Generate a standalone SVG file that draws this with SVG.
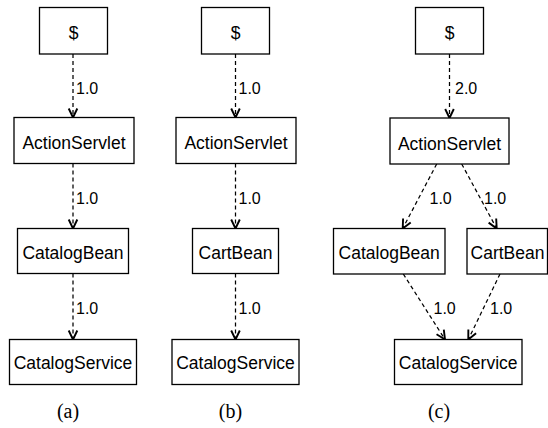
<svg xmlns="http://www.w3.org/2000/svg" width="548" height="428" viewBox="0 0 548 428">
<defs>
<marker id="arr" markerUnits="userSpaceOnUse" viewBox="-11 -6 13 12" refX="0" refY="0" markerWidth="13" markerHeight="12" orient="auto" overflow="visible">
<path d="M-9,-4.3 L0,0 L-9,4.3" fill="none" stroke="#000" stroke-width="1.9" stroke-dasharray="none"/>
</marker>
</defs>
<style>
.box{fill:#fff;stroke:#000;stroke-width:1.3}
.t{font-family:"Liberation Sans",Arial,sans-serif;font-size:17.5px;text-anchor:middle;fill:#000}
.lbl{font-family:"Liberation Sans",Arial,sans-serif;font-size:16px;fill:#000}
.cap{font-family:"Liberation Serif","Times New Roman",serif;font-size:20px;text-anchor:middle;fill:#000}
.e{fill:none;stroke:#000;stroke-width:1.25;stroke-dasharray:4 3;marker-end:url(#arr)}
</style>
<rect width="548" height="428" fill="#fff"/>
<g id="connectors">
<line class="e" x1="73" y1="54" x2="73" y2="117.5"/>
<line class="e" x1="73" y1="163.5" x2="73" y2="228.5"/>
<line class="e" x1="73" y1="273.5" x2="73" y2="339.5"/>
<line class="e" x1="235.5" y1="54" x2="235.5" y2="117.5"/>
<line class="e" x1="235.5" y1="163.5" x2="235.5" y2="228.5"/>
<line class="e" x1="235.5" y1="273.5" x2="235.5" y2="339.5"/>
<line class="e" x1="449.5" y1="54" x2="449.5" y2="118"/>
<line class="e" x1="436.7" y1="164" x2="402.7" y2="228.5"/>
<line class="e" x1="461.7" y1="164" x2="496.7" y2="228.5"/>
<line class="e" x1="403.3" y1="274" x2="445" y2="339.5"/>
<line class="e" x1="500" y1="274" x2="468.3" y2="339.5"/>
<text class="lbl" x="76" y="94">1.0</text>
<text class="lbl" x="76" y="203.5">1.0</text>
<text class="lbl" x="76" y="313.5">1.0</text>
<text class="lbl" x="238.5" y="94">1.0</text>
<text class="lbl" x="238.5" y="203.5">1.0</text>
<text class="lbl" x="238.5" y="313.5">1.0</text>
<text class="lbl" x="455" y="94">2.0</text>
<text class="lbl" x="429.5" y="204">1.0</text>
<text class="lbl" x="484" y="204">1.0</text>
<text class="lbl" x="433.5" y="313.5">1.0</text>
<text class="lbl" x="490" y="313.5">1.0</text>
</g>
<g id="a_root"><rect class="box" x="39.5" y="7.5" width="68" height="46.5"/><text class="t" x="73.5" y="38.5">$</text></g>
<g id="a_actionservlet"><rect class="box" x="14" y="117.5" width="120" height="46"/><text class="t" x="74" y="149">ActionServlet</text></g>
<g id="a_catalogbean"><rect class="box" x="17.5" y="228.5" width="111" height="45"/><text class="t" x="73" y="258.5">CatalogBean</text></g>
<g id="a_catalogservice"><rect class="box" x="9.5" y="339.5" width="127" height="45"/><text class="t" x="73" y="369">CatalogService</text></g>
<g id="b_root"><rect class="box" x="201.5" y="7.5" width="68" height="46.5"/><text class="t" x="235.5" y="38.5">$</text></g>
<g id="b_actionservlet"><rect class="box" x="176" y="117.5" width="120" height="46"/><text class="t" x="236" y="149">ActionServlet</text></g>
<g id="b_cartbean"><rect class="box" x="192.5" y="228.5" width="86" height="45"/><text class="t" x="235.5" y="258.5">CartBean</text></g>
<g id="b_catalogservice"><rect class="box" x="172" y="339.5" width="127" height="45"/><text class="t" x="235.5" y="369">CatalogService</text></g>
<g id="c_root"><rect class="box" x="415.5" y="7.5" width="68" height="46.5"/><text class="t" x="449.5" y="38.5">$</text></g>
<g id="c_actionservlet"><rect class="box" x="390" y="118" width="119" height="46"/><text class="t" x="449.5" y="149.5">ActionServlet</text></g>
<g id="c_catalogbean"><rect class="box" x="333.5" y="228.5" width="111.5" height="45.5"/><text class="t" x="389.2" y="258.5">CatalogBean</text></g>
<g id="c_cartbean"><rect class="box" x="467" y="228.5" width="80.5" height="45.5"/><text class="t" x="507.5" y="258.5">CartBean</text></g>
<g id="c_catalogservice"><rect class="box" x="394.5" y="339.5" width="127.5" height="45"/><text class="t" x="458.2" y="369">CatalogService</text></g>
<text class="cap" x="68" y="418">(a)</text>
<text class="cap" x="230.5" y="418">(b)</text>
<text class="cap" x="439" y="418">(c)</text>
</svg>
